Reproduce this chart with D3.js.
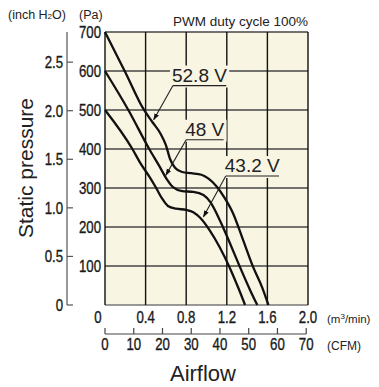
<!DOCTYPE html>
<html>
<head>
<meta charset="utf-8">
<script src="https://cdn.jsdelivr.net/npm/d3@7"></script>
<style>
  body { margin: 0; background: #fff; }
  svg { display: block; }
  .cond { font-family: 'Liberation Sans', Arial, sans-serif; font-size: 16.5px; fill: #1a1a1a; stroke: #1a1a1a; stroke-width: 0.35px; }
  .reg { font-family: 'Liberation Sans', Arial, sans-serif; fill: #222; }
</style>
</head>
<body>
<div id="chart"></div>
<script>
// Airflow (m3/min) vs static pressure (Pa)
const curve528 = [[0,700],[0.2,597],[0.38,502],[0.47,468],[0.55,438],[0.6,410],[0.64,375],[0.69,352],[0.76,341],[0.85,338],[0.95,334],[1.02,324],[1.1,304],[1.18,274],[1.26,236],[1.36,167],[1.46,97],[1.55,44],[1.61,0]];
const curve48 = [[0,600],[0.23,500],[0.44,398],[0.54,354],[0.61,322],[0.67,302],[0.76,292],[0.87,290],[0.97,282],[1.04,263],[1.13,218],[1.23,159],[1.33,97],[1.43,38],[1.5,0]];
const curve432 = [[0,500],[0.27,400],[0.35,363],[0.44,328],[0.5,302],[0.56,274],[0.62,254],[0.7,247],[0.8,244],[0.87,238],[0.94,223],[1.03,192],[1.13,148],[1.23,95],[1.31,46],[1.38,0]];

const m3Ticks = [0, 0.4, 0.8, 1.2, 1.6, 2.0];
const cfmTicks = [0, 10, 20, 30, 40, 50, 60, 70];
const paTicks = [100, 200, 300, 400, 500, 600, 700];
const inchTicks = [0, 0.5, 1.0, 1.5, 2.0, 2.5];

const CFM_TO_M3 = 0.0283168;
const INCH_TO_PA = 249.089;
const SQUEEZE = 0.8; // condensed look for the tick numbers

const width = 379, height = 387;
const svg = d3.select('#chart').append('svg')
    .attr('width', width)
    .attr('height', height);

const x = d3.scaleLinear().domain([0, 2]).range([105, 308]);
const y = d3.scaleLinear().domain([0, 700]).range([305, 32]);

// plot background
svg.append('rect')
    .attr('x', x(0)).attr('y', y(700))
    .attr('width', x(2) - x(0)).attr('height', y(0) - y(700))
    .attr('fill', '#f9f5e3');

// grid
const grid = svg.append('g').attr('stroke-width', 1.4);
grid.selectAll('line.h')
    .data([0].concat(paTicks))
    .join('line')
    .attr('x1', x(0)).attr('x2', x(2))
    .attr('y1', d => y(d)).attr('y2', d => y(d))
    .attr('stroke', d => d === 0 ? '#777' : '#444');
grid.selectAll('line.v')
    .data(m3Ticks)
    .join('line')
    .attr('x1', d => x(d)).attr('x2', d => x(d))
    .attr('y1', y(0)).attr('y2', y(700))
    .attr('stroke', '#111');

// curves
const line = d3.line()
    .x(d => x(d[0]))
    .y(d => y(d[1]))
    .curve(d3.curveMonotoneX);

svg.append('g')
    .selectAll('path')
    .data([curve528, curve48, curve432])
    .join('path')
    .attr('d', line)
    .attr('fill', 'none')
    .attr('stroke', '#111')
    .attr('stroke-width', 2.3);

// voltage labels with leader arrows
const labels = [
    { text: '52.8 V', v: 0.66, p: 573, tip: [0.48, 475] },
    { text: '48 V', v: 0.79, p: 434, tip: [0.6, 333] },
    { text: '43.2 V', v: 1.18, p: 341, tip: [0.97, 226] }
];

svg.append('defs').append('marker')
    .attr('id', 'arrow')
    .attr('viewBox', '0 0 10 10')
    .attr('refX', 9).attr('refY', 5)
    .attr('markerWidth', 7).attr('markerHeight', 7)
    .attr('markerUnits', 'userSpaceOnUse')
    .attr('orient', 'auto')
    .append('path')
    .attr('d', 'M0,1.5L10,5L0,8.5z')
    .attr('fill', '#111');

const lab = svg.append('g').selectAll('g')
    .data(labels)
    .join('g');

lab.each(function(d) {
    const g = d3.select(this);
    const t = g.append('text')
        .attr('class', 'reg')
        .attr('x', x(d.v)).attr('y', y(d.p))
        .style('font-size', '19px')
        .text(d.text);
    const bb = t.node().getBBox();
    g.insert('rect', 'text')
        .attr('x', bb.x - 2).attr('y', bb.y + 1)
        .attr('width', bb.width + 4).attr('height', bb.height + 1)
        .attr('fill', '#f9f5e3');
    const uy = y(d.p) + 4;
    g.append('line')
        .attr('x1', bb.x + 1).attr('x2', bb.x + bb.width - 1)
        .attr('y1', uy).attr('y2', uy)
        .attr('stroke', '#222').attr('stroke-width', 1.2);
    g.append('line')
        .attr('x1', bb.x + 1).attr('y1', uy)
        .attr('x2', x(d.tip[0])).attr('y2', y(d.tip[1]))
        .attr('stroke', '#222').attr('stroke-width', 1.1)
        .attr('marker-end', 'url(#arrow)');
});

// condensed number helper
function condText(sel, fx, fy, anchor, fmt) {
    sel.join('text')
        .attr('class', 'cond')
        .attr('text-anchor', anchor)
        .attr('transform', d => `translate(${fx(d)},${fy(d)}) scale(${SQUEEZE},1)`)
        .text(fmt);
}

// Pa tick labels
condText(svg.append('g').selectAll('text').data(paTicks),
    d => 101, d => y(d) + 6, 'end', d => d);

// inch H2O axis
const inchAxis = svg.append('g').attr('stroke', '#555').attr('stroke-width', 1.2);
inchAxis.append('line')
    .attr('x1', 67).attr('x2', 67)
    .attr('y1', y(700)).attr('y2', y(0));
inchAxis.selectAll('line.t')
    .data(inchTicks)
    .join('line')
    .attr('x1', 67).attr('x2', 73)
    .attr('y1', d => y(d * INCH_TO_PA)).attr('y2', d => y(d * INCH_TO_PA));
condText(svg.append('g').selectAll('text').data(inchTicks),
    d => 63, d => y(d * INCH_TO_PA) + 6, 'end', d => d === 0 ? '0' : d.toFixed(1));

// m3/min tick labels
condText(svg.append('g').selectAll('text').data(m3Ticks),
    d => d === 0 ? x(d) - 7 : x(d), d => 323, 'middle', d => d === 0 ? '0' : d.toFixed(1));

// CFM axis
const cfm = svg.append('g').attr('stroke', '#444').attr('stroke-width', 1.2);
cfm.append('line')
    .attr('x1', x(0)).attr('x2', x(70 * CFM_TO_M3))
    .attr('y1', 334).attr('y2', 334);
cfm.selectAll('line.t')
    .data(cfmTicks)
    .join('line')
    .attr('x1', d => x(d * CFM_TO_M3)).attr('x2', d => x(d * CFM_TO_M3))
    .attr('y1', 334).attr('y2', 328);
condText(svg.append('g').selectAll('text').data(cfmTicks),
    d => x(d * CFM_TO_M3), d => 350, 'middle', d => d);

// unit labels
svg.append('text').attr('class', 'reg').attr('x', 327).attr('y', 323)
    .style('font-size', '11.5px').html('(m<tspan font-size="8" dy="-4">3</tspan><tspan dy="4">/min)</tspan>');
svg.append('text').attr('class', 'reg').attr('x', 327).attr('y', 350)
    .style('font-size', '12px').text('(CFM)');
svg.append('text').attr('class', 'reg').attr('x', 8).attr('y', 19)
    .style('font-size', '12.5px').html('(inch H<tspan font-size="8">2</tspan>O)');
svg.append('text').attr('class', 'reg').attr('x', 79).attr('y', 19)
    .style('font-size', '12.5px').text('(Pa)');
svg.append('text').attr('class', 'reg').attr('x', 308).attr('y', 26)
    .attr('text-anchor', 'end')
    .style('font-size', '13.5px').text('PWM duty cycle 100%');

// axis titles
svg.append('text').attr('class', 'reg')
    .attr('transform', 'translate(33,168) rotate(-90)')
    .attr('text-anchor', 'middle')
    .style('font-size', '21px')
    .text('Static pressure');
svg.append('text').attr('class', 'reg')
    .attr('x', 203).attr('y', 381)
    .attr('text-anchor', 'middle')
    .style('font-size', '22px')
    .text('Airflow');
</script>
</body>
</html>
